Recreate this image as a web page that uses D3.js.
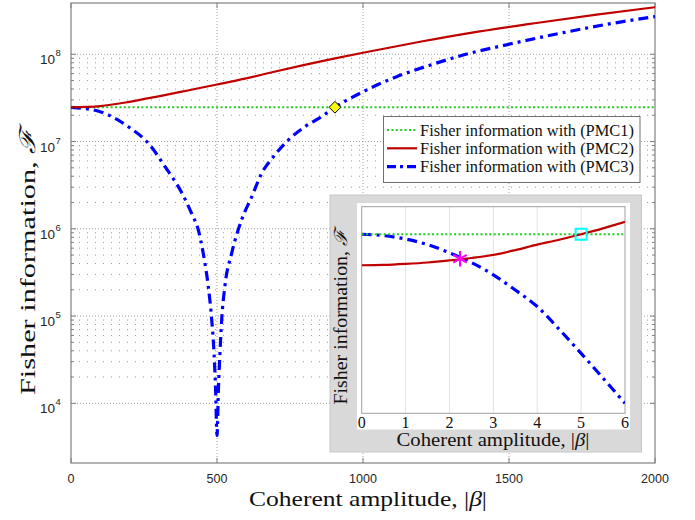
<!DOCTYPE html>
<html>
<head>
<meta charset="utf-8">
<script src="https://cdn.jsdelivr.net/npm/d3@7/dist/d3.min.js"></script>
<style>
  html, body { margin: 0; padding: 0; background: #fff; }
  svg { display: block; }
</style>
</head>
<body>
<svg id="chart" width="695" height="520"></svg>
<script>
// ---- main panel data: Fisher information vs coherent amplitude ----
const xTicks = [0, 500, 1000, 1500, 2000];
const yDecades = [1e4, 1e5, 1e6, 1e7, 1e8];

const pmc1Beta = [0, 2000];
const pmc1 = [2.47e7, 2.47e7];

const pmc2Beta = [0, 100, 200, 300, 400, 500, 600, 700, 800, 900, 1000, 1200, 1400, 1600, 1800, 2000];
const pmc2 = [2.47e7, 2.55e7, 2.85e7, 3.3e7, 3.85e7, 4.5e7, 5.3e7, 6.35e7, 7.55e7, 8.9e7, 1.04e8, 1.40e8, 1.83e8, 2.3e8, 2.85e8, 3.46e8];

const pmc3Beta = [0, 100, 150, 200, 265, 322, 379, 413, 436, 453, 470, 482, 490, 495, 500,
                  505, 510, 516, 527, 550, 584, 619, 653, 693, 744, 801, 858, 904,
                  1000, 1115, 1229, 1343, 1503, 1686, 1857, 2000];
const pmc3 = [2.47e7, 2.2e7, 1.85e7, 1.45e7, 9.55e6, 5.15e6, 2.6e6, 1.5e6, 9.7e5, 5.2e5, 2.2e5, 9e4, 3.7e4, 1.5e4, 4.3e3,
              1.5e4, 3.7e4, 9e4, 2.2e5, 5.2e5, 1.26e6, 2.33e6, 4.33e6, 6.7e6, 1.04e7, 1.48e7, 1.93e7, 2.47e7,
              3.72e7, 5.53e7, 7.5e7, 9.8e7, 1.31e8, 1.77e8, 2.27e8, 2.7e8];

// crossing of PMC1 and PMC3
const crossBeta = 904;
const crossF = 2.47e7;

const legendLabels = ["Fisher information with (PMC1)", "Fisher information with (PMC2)", "Fisher information with (PMC3)"];

// ---- inset data: small-amplitude region ----
const insetTicks = [0, 1, 2, 3, 4, 5, 6];
const insetBeta = [0, 0.5, 1, 1.5, 2, 2.5, 3, 3.5, 4, 4.5, 5, 5.5, 6];
const insetPmc1 = [26.0, 26.0, 26.0, 26.0, 26.0, 26.0, 26.0, 26.0, 26.0, 26.0, 26.0, 26.0, 26.0];
const insetPmc2 = [21.5, 21.55, 21.7, 21.9, 22.2, 22.55, 23.0, 23.7, 24.5, 25.2, 26.0, 26.85, 27.8];
const insetPmc3 = [26.0, 25.8, 25.3, 24.5, 23.3, 21.9, 20.1, 17.9, 15.5, 12.2, 8.7, 5.1, 1.45];
const starPoint = [2.24, 22.45];
const squarePoint = [5.0, 26.0];

// ---- styles ----
const C_GREEN = "#1fcc1f", C_RED = "#c00000", C_BLUE = "#0000ff";
const SERIF = "'Liberation Serif', 'Times New Roman', serif";
const SANS = "'Liberation Sans', Arial, Helvetica, sans-serif";
const TXT = "#262626";

const svg = d3.select("#chart");
const defs = svg.append("defs");

// label of the form "<prefix><italic symbol><suffix>", stretched to a given length
function mathLabel(sel, prefix, sym, suffix, size, len) {
  const t = sel.attr("font-family", SERIF).attr("font-size", size).attr("fill", "#111")
    .attr("text-anchor", "middle")
    .attr("textLength", len).attr("lengthAdjust", "spacingAndGlyphs");
  t.append("tspan").text(prefix);
  t.append("tspan").attr("font-style", "italic").text(sym);
  if (suffix) t.append("tspan").text(suffix);
  return t;
}

// ---------------- main axes ----------------
const M = { left: 71, right: 655, top: 3, bottom: 463 };
const x = d3.scaleLinear().domain([0, 2000]).range([M.left, M.right]);
const y = d3.scaleLog().domain([2070, 3.87e8]).range([M.bottom, M.top]);

defs.append("clipPath").attr("id", "mainClip")
  .append("rect").attr("x", M.left).attr("y", M.top)
  .attr("width", M.right - M.left).attr("height", M.bottom - M.top);

const grid = svg.append("g");
// minor horizontal grid (2..9 × decade)
const minorVals = [];
[1e4, 1e5, 1e6, 1e7].forEach(d => { for (let k = 2; k <= 9; k++) minorVals.push(k * d); });
grid.selectAll("line.minor").data(minorVals).join("line")
  .attr("x1", M.left).attr("x2", M.right)
  .attr("y1", d => y(d)).attr("y2", d => y(d))
  .attr("stroke", "#9a9a9a").attr("stroke-width", 1)
  .attr("stroke-dasharray", "1,7");
// major horizontal grid
grid.selectAll("line.majorY").data(yDecades).join("line")
  .attr("x1", M.left).attr("x2", M.right)
  .attr("y1", d => y(d)).attr("y2", d => y(d))
  .attr("stroke", "#a0a0a0").attr("stroke-width", 1)
  .attr("stroke-dasharray", "1,2");
// major vertical grid
grid.selectAll("line.majorX").data(xTicks.slice(1, -1)).join("line")
  .attr("x1", d => x(d)).attr("x2", d => x(d))
  .attr("y1", M.top).attr("y2", M.bottom)
  .attr("stroke", "#a0a0a0").attr("stroke-width", 1)
  .attr("stroke-dasharray", "1,2");

// axis box
svg.append("rect").attr("x", M.left).attr("y", M.top)
  .attr("width", M.right - M.left).attr("height", M.bottom - M.top)
  .attr("fill", "none").attr("stroke", "#808080").attr("stroke-width", 1.2);

// tick marks (inside)
const ticks = svg.append("g").attr("stroke", "#808080").attr("stroke-width", 1);
xTicks.forEach(v => {
  ticks.append("line").attr("x1", x(v)).attr("x2", x(v)).attr("y1", M.bottom).attr("y2", M.bottom - 5);
  ticks.append("line").attr("x1", x(v)).attr("x2", x(v)).attr("y1", M.top).attr("y2", M.top + 5);
});
yDecades.forEach(v => {
  ticks.append("line").attr("x1", M.left).attr("x2", M.left + 5).attr("y1", y(v)).attr("y2", y(v));
  ticks.append("line").attr("x1", M.right).attr("x2", M.right - 5).attr("y1", y(v)).attr("y2", y(v));
});
minorVals.forEach(v => {
  ticks.append("line").attr("x1", M.left).attr("x2", M.left + 3).attr("y1", y(v)).attr("y2", y(v));
  ticks.append("line").attr("x1", M.right).attr("x2", M.right - 3).attr("y1", y(v)).attr("y2", y(v));
});

// x tick labels
svg.append("g").selectAll("text").data(xTicks).join("text")
  .attr("x", d => x(d)).attr("y", 483)
  .attr("text-anchor", "middle")
  .attr("font-family", SANS).attr("font-size", 12.5).attr("fill", TXT)
  .text(d => d);

// y tick labels 10^n
const yl = svg.append("g");
yDecades.forEach(v => {
  yl.append("text")
    .attr("x", 55).attr("y", y(v) + 10)
    .attr("text-anchor", "end")
    .attr("font-family", SANS).attr("font-size", 13.5).attr("fill", TXT)
    .text("10");
  yl.append("text").attr("x", 55.5).attr("y", y(v) + 2)
    .attr("font-family", SANS).attr("font-size", 9.5).attr("fill", TXT)
    .text(Math.round(Math.log10(v)));
});

// axis labels
mathLabel(svg.append("text").attr("x", 368).attr("y", 506), "Coherent amplitude, |", "β", "|", 22, 238);
mathLabel(svg.append("text").attr("transform", "translate(35,262) rotate(-90)"),
  "Fisher information, ", "ℱ", null, 22, 266);

// curves
const mainLine = d3.line().x(d => x(d[0])).y(d => y(d[1])).curve(d3.curveMonotoneX);
const plot = svg.append("g").attr("clip-path", "url(#mainClip)");
plot.append("path").datum(d3.zip(pmc3Beta, pmc3))
  .attr("d", mainLine).attr("fill", "none").attr("stroke", C_BLUE)
  .attr("stroke-width", 3.2).attr("stroke-dasharray", "10,5,3,5");
plot.append("path").datum(d3.zip(pmc1Beta, pmc1))
  .attr("d", mainLine).attr("fill", "none").attr("stroke", C_GREEN)
  .attr("stroke-width", 2.2).attr("stroke-dasharray", "2,2.4");
plot.append("path").datum(d3.zip(pmc2Beta, pmc2))
  .attr("d", mainLine).attr("fill", "none").attr("stroke", C_RED)
  .attr("stroke-width", 2.2);

// diamond marker at the PMC1/PMC3 crossing
svg.append("path")
  .attr("d", d3.symbol().type(d3.symbolDiamond2).size(88)())
  .attr("transform", `translate(${x(crossBeta)},${y(crossF)})`)
  .attr("fill", "#ffff00").attr("stroke", "#000").attr("stroke-width", 1);

// legend
const lg = svg.append("g");
lg.append("rect").attr("x", 383.5).attr("y", 116.5).attr("width", 256.5).attr("height", 66)
  .attr("fill", "#fff").attr("stroke", "#707070").attr("stroke-width", 1);
const legStyles = [
  { c: C_GREEN, w: 2.2, dash: "2,2.4" },
  { c: C_RED, w: 2.2, dash: null },
  { c: C_BLUE, w: 3.2, dash: "9,4,3,4" }
];
legendLabels.forEach((lab, i) => {
  const yy = 130 + i * 18.3;
  lg.append("line").attr("x1", 387).attr("x2", 417).attr("y1", yy).attr("y2", yy)
    .attr("stroke", legStyles[i].c).attr("stroke-width", legStyles[i].w)
    .attr("stroke-dasharray", legStyles[i].dash);
  lg.append("text").attr("x", 420).attr("y", yy + 5.5)
    .attr("font-family", SERIF).attr("font-size", 16.5).attr("fill", "#111")
    .attr("textLength", 214).attr("lengthAdjust", "spacingAndGlyphs")
    .text(lab);
});

// ---------------- inset ----------------
svg.append("rect").attr("x", 330).attr("y", 195).attr("width", 311.5).attr("height", 257)
  .attr("fill", "#d9d9d9").attr("stroke", "#c8c8c8").attr("stroke-width", 1);
svg.append("rect").attr("x", 357).attr("y", 203).attr("width", 273).attr("height", 226.5)
  .attr("fill", "#fff");

const I = { left: 361.7, right: 625, top: 206.7, bottom: 413.3 };
const ix = d3.scaleLinear().domain([0, 6]).range([I.left, I.right]);
const iy = d3.scaleLinear().domain([0, 30]).range([I.bottom, I.top]);

defs.append("clipPath").attr("id", "insetClip")
  .append("rect").attr("x", I.left).attr("y", I.top - 2)
  .attr("width", I.right - I.left).attr("height", I.bottom - I.top + 4);

svg.append("g").selectAll("line").data(insetTicks.slice(1, -1)).join("line")
  .attr("x1", d => ix(d)).attr("x2", d => ix(d))
  .attr("y1", I.top).attr("y2", I.bottom)
  .attr("stroke", "#e3e3e3").attr("stroke-width", 1);

svg.append("rect").attr("x", I.left).attr("y", I.top)
  .attr("width", I.right - I.left).attr("height", I.bottom - I.top)
  .attr("fill", "none").attr("stroke", "#a0a0a0").attr("stroke-width", 1);

svg.append("g").selectAll("text").data(insetTicks).join("text")
  .attr("x", d => ix(d)).attr("y", 427.5)
  .attr("text-anchor", "middle").attr("font-family", SERIF).attr("font-size", 16).attr("fill", "#111")
  .text(d => d);

mathLabel(svg.append("text").attr("x", 493).attr("y", 446), "Coherent amplitude, |", "β", "|", 18, 193);
mathLabel(svg.append("text").attr("transform", "translate(347,317) rotate(-90)"),
  "Fisher information, ", "ℱ", null, 18, 175);

const insetLine = d3.line().x(d => ix(d[0])).y(d => iy(d[1])).curve(d3.curveMonotoneX);
const ip = svg.append("g").attr("clip-path", "url(#insetClip)");
ip.append("path").datum(d3.zip(insetBeta, insetPmc3))
  .attr("d", insetLine).attr("fill", "none").attr("stroke", C_BLUE)
  .attr("stroke-width", 3.2).attr("stroke-dasharray", "10,5,3,5");
ip.append("path").datum(d3.zip(insetBeta, insetPmc1))
  .attr("d", insetLine).attr("fill", "none").attr("stroke", C_GREEN)
  .attr("stroke-width", 2.2).attr("stroke-dasharray", "2,2.4");
ip.append("path").datum(d3.zip(insetBeta, insetPmc2))
  .attr("d", insetLine).attr("fill", "none").attr("stroke", C_RED)
  .attr("stroke-width", 2.2);

// asterisk where PMC2 and PMC3 cross
svg.append("path")
  .attr("d", d3.symbol().type(d3.symbolAsterisk).size(170)())
  .attr("transform", `translate(${ix(starPoint[0])},${iy(starPoint[1])})`)
  .attr("fill", "none").attr("stroke", "#ff00ff").attr("stroke-width", 2);

// square where PMC2 meets PMC1
svg.append("rect")
  .attr("x", ix(squarePoint[0]) - 5.5).attr("y", iy(squarePoint[1]) - 5.5)
  .attr("width", 11).attr("height", 11)
  .attr("fill", "none").attr("stroke", "#00ffff").attr("stroke-width", 2);
</script>
</body>
</html>
